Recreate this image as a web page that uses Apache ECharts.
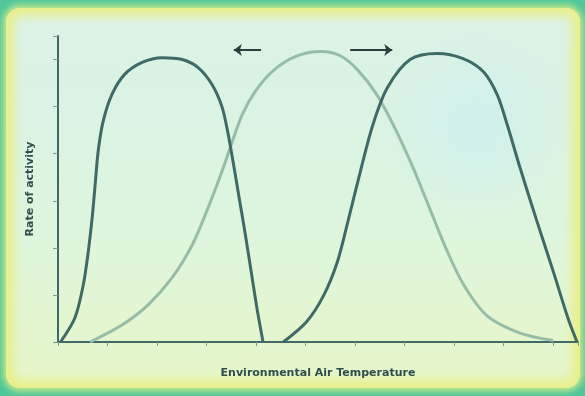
<!DOCTYPE html>
<html>
<head>
<meta charset="utf-8">
<script src="https://cdn.jsdelivr.net/npm/echarts@6/dist/echarts.min.js"></script>
<style>
html,body{margin:0;padding:0;width:585px;height:396px;overflow:hidden;background:#4fc79a;}
#frame{position:absolute;left:6px;top:8px;width:574px;height:380px;border-radius:14px;
 background:linear-gradient(180deg,#dcf2e6 0%,#daf3e4 25%,#def6dc 60%,#e6f6c8 100%);
 box-shadow:inset 0 0 10px 8px #e9ef8c, 0 0 6px 3px #c9e88a;}
#glow{position:absolute;left:380px;top:30px;width:190px;height:200px;
 background:radial-gradient(ellipse at center,rgba(205,238,240,0.8) 0%,rgba(205,238,240,0) 70%);}
#main{position:absolute;left:0;top:0;width:585px;height:396px;}
</style>
</head>
<body>
<div id="frame"></div>
<div id="glow"></div>
<div id="main"></div>
<script>
// data (x in arbitrary units, y in relative response)
const leftCurveX  = [0.05, 0.34, 0.51, 0.61, 0.69, 0.75, 0.81, 0.91, 1.09, 1.35, 1.70, 2.10, 2.51, 2.83, 3.11, 3.31, 3.43, 3.54, 3.66, 3.78, 3.90, 4.02, 4.14];
const leftCurveY  = [0.0, 0.51, 1.21, 1.91, 2.64, 3.34, 4.04, 4.68, 5.26, 5.69, 5.94, 6.04, 6.00, 5.83, 5.47, 5.0, 4.45, 3.8, 3.05, 2.3, 1.5, 0.7, 0.0];
const midCurveX   = [0.65, 1.29, 1.82, 2.30, 2.71, 3.03, 3.31, 3.52, 3.72, 3.98, 4.32, 4.79, 5.30, 5.70, 6.05, 6.44, 6.80, 7.15, 7.50, 7.85, 8.20, 8.67, 9.33, 10.0];
const midCurveY   = [0.0, 0.36, 0.79, 1.36, 2.06, 2.85, 3.62, 4.26, 4.83, 5.32, 5.74, 6.06, 6.17, 6.08, 5.78, 5.25, 4.55, 3.75, 2.85, 1.95, 1.2, 0.55, 0.19, 0.03];
const rightCurveX = [4.55, 5.02, 5.37, 5.64, 5.84, 6.10, 6.36, 6.65, 7.11, 7.66, 8.18, 8.59, 8.87, 9.07, 9.33, 9.66, 10.0, 10.3, 10.48];
const rightCurveY = [0.0, 0.43, 1.0, 1.7, 2.5, 3.6, 4.62, 5.4, 6.0, 6.13, 6.02, 5.74, 5.25, 4.62, 3.7, 2.6, 1.5, 0.5, 0.0];
const arrowLeft  = [[4.1, 6.2], [3.55, 6.2]];
const arrowRight = [[5.9, 6.2], [6.75, 6.2]];
const xTitle = 'Environmental Air Temperature';
const yTitle = 'Rate of activity';

function pairs(xs, ys){ return xs.map((x,i)=>[x, ys[i]]); }

const chart = echarts.init(document.getElementById('main'), null, {renderer:'canvas'});
const dark = '#3f6a66';
const light = '#97bda6';
chart.setOption({
  backgroundColor: 'transparent',
  animation: false,
  grid: {left: 58, right: 7, top: 36, bottom: 54},
  xAxis: {
    type: 'value', min: 0, max: 10.5, interval: 1,
    name: xTitle, nameLocation: 'middle', nameGap: 26,
    nameTextStyle: {color: '#2f4f4a', fontSize: 11, fontWeight: 'bold', fontFamily: 'DejaVu Sans'},
    axisLine: {lineStyle: {color: dark, width: 2}},
    axisTick: {show: true, length: 4, lineStyle: {color: '#7a9a90'}},
    axisLabel: {show: false},
    splitLine: {show: false}
  },
  yAxis: {
    type: 'value', min: 0, max: 6.5, interval: 1,
    name: yTitle, nameLocation: 'middle', nameGap: 22,
    nameTextStyle: {color: '#2f4f4a', fontSize: 11, fontWeight: 'bold', fontFamily: 'DejaVu Sans'},
    axisLine: {lineStyle: {color: dark, width: 2}},
    axisTick: {show: true, length: 5, lineStyle: {color: '#7a9a90'}},
    axisLabel: {show: false},
    splitLine: {show: false}
  },
  series: [
    {type: 'line', data: pairs(midCurveX, midCurveY), smooth: 0.3, symbol: 'none',
     lineStyle: {color: light, width: 3}, z: 2,
     markLine: {
       silent: true, symbol: ['none', 'arrow'], symbolSize: [9, 8], label: {show: false},
       lineStyle: {color: '#2b3f3a', width: 2, type: 'solid'},
       data: [
         [{coord: arrowLeft[0]}, {coord: arrowLeft[1]}],
         [{coord: arrowRight[0]}, {coord: arrowRight[1]}]
       ]
     }},
    {type: 'line', data: pairs(leftCurveX, leftCurveY), smooth: 0.3, symbol: 'none',
     lineStyle: {color: dark, width: 3}, z: 3},
    {type: 'line', data: pairs(rightCurveX, rightCurveY), smooth: 0.3, symbol: 'none',
     lineStyle: {color: dark, width: 3}, z: 3}
  ]
});
</script>
</body>
</html>
